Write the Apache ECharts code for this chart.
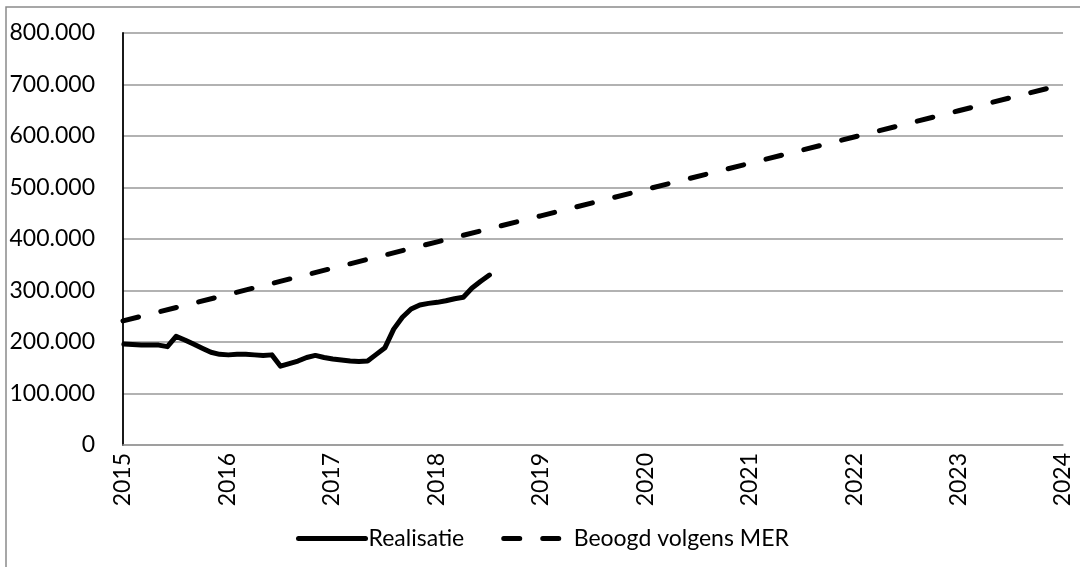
<!DOCTYPE html>
<html>
<head>
<meta charset="utf-8">
<script src="https://cdn.jsdelivr.net/npm/echarts@6/dist/echarts.min.js"></script>
<style>
html,body{margin:0;padding:0;background:#fff;}
#chart{width:1080px;height:567px;}
</style>
</head>
<body>
<div id="chart"></div>
<script>
// Realisatie: monthly values (passengers, rolling)
const realMonths = [
  '2015-01','2015-02','2015-03','2015-04','2015-05','2015-06','2015-07','2015-08','2015-09','2015-10','2015-11','2015-12',
  '2016-01','2016-02','2016-03','2016-04','2016-05','2016-06','2016-07','2016-08','2016-09','2016-10','2016-11','2016-12',
  '2017-01','2017-02','2017-03','2017-04','2017-05','2017-06','2017-07','2017-08','2017-09','2017-10','2017-11','2017-12',
  '2018-01','2018-02','2018-03','2018-04','2018-05','2018-06','2018-07'
];
const realValues = [
  196000,195000,194000,194000,194000,191000,211000,204000,196000,188000,180000,176000,
  175000,176000,176000,175000,174000,175000,153000,158000,163000,170000,174000,170000,
  167000,165000,163000,162000,163000,176000,189000,225000,248000,264000,272000,275000,
  277000,280000,284000,287000,305000,318000,330000
];
// Beoogd volgens MER: yearly target
const merYears = [2015,2016,2017,2018,2019,2020,2021,2022,2023,2024];
const merValues = [241000,292000,343000,394000,445000,496000,547000,598000,649000,700000];
const yearTicks = ['2015','2016','2017','2018','2019','2020','2021','2022','2023','2024'];

function monthToX(s){
  const [y,m] = s.split('-').map(Number);
  return y + (m - 1 + 0.1) / 12;
}
const realData = realMonths.map((m,i)=>[monthToX(m), realValues[i]]);
const merData = merYears.map((y,i)=>[y, merValues[i]]);

const FONT = 'Lato';
function fmt(v){
  return String(Math.round(v)).replace(/\B(?=(\d{3})+(?!\d))/g,'.');
}

const chart = echarts.init(document.getElementById('chart'), null, {renderer:'canvas'});
chart.setOption({
  animation:false,
  backgroundColor:'#fff',
  textStyle:{fontFamily:FONT},
  graphic:[{
    type:'rect', z:-10,
    shape:{x:6, y:7, width:1200, height:700},
    style:{fill:'none', stroke:'#8a8a8a', lineWidth:1.5}
  }],
  grid:{left:123, right:17, top:33, bottom:122, containLabel:false},
  xAxis:{
    type:'value', min:2015, max:2024, interval:1,
    axisLine:{show:true, lineStyle:{color:'#999', width:1.5}},
    axisTick:{show:false},
    splitLine:{show:false},
    axisLabel:{
      rotate:90, margin:8, color:'#000', fontSize:23, fontFamily:FONT,
      formatter:(v)=>yearTicks[Math.round(v-2015)] || ''
    }
  },
  yAxis:{
    type:'value', min:0, max:800000, interval:100000,
    axisLine:{show:true, lineStyle:{color:'#000', width:1.8}},
    axisTick:{show:false},
    splitLine:{show:true, lineStyle:{color:'#999', width:1.5}},
    axisLabel:{margin:28, color:'#000', fontSize:23, fontFamily:FONT, formatter:fmt}
  },
  legend:{
    left:291, top:522,
    itemWidth:67, itemHeight:14, itemGap:37,
    itemStyle:{opacity:0},
    lineStyle:{width:5, cap:'round'},
    textStyle:{fontSize:23, color:'#000', fontFamily:FONT, padding:[0,0,0,-2]},
    data:['Realisatie','Beoogd volgens MER']
  },
  series:[
    {
      name:'Realisatie', type:'line', data:realData,
      symbol:'none', smooth:false,
      lineStyle:{color:'#000', width:5, cap:'round', join:'round'},
      itemStyle:{color:'#000'}
    },
    {
      name:'Beoogd volgens MER', type:'line', data:merData,
      symbol:'none',
      lineStyle:{color:'#000', width:5, type:[16,23], cap:'round'},
      itemStyle:{color:'#000'}
    }
  ]
});
</script>
</body>
</html>
